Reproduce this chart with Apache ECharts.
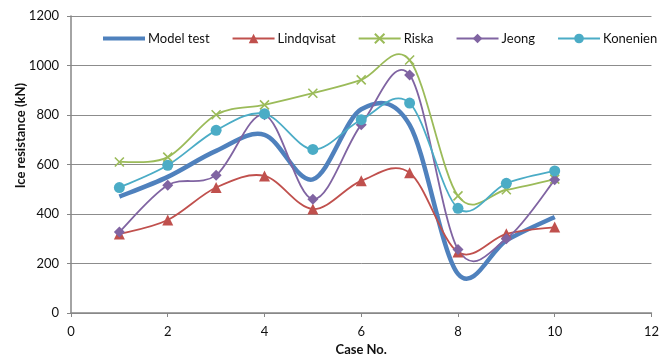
<!DOCTYPE html>
<html>
<head>
<meta charset="utf-8">
<script src="https://cdn.jsdelivr.net/npm/echarts@6/dist/echarts.min.js"></script>
<style>
html,body{margin:0;padding:0;background:#fff;}
#c{width:662px;height:361px;}
</style>
</head>
<body>
<div id="c"></div>
<script>
const caseNo = [1, 2, 3, 4, 5, 6, 7, 8, 9, 10];
const modelTest = [470, 550, 655, 720, 540, 823, 760, 158, 293, 388];
const lindqvisat = [319, 376, 507, 554, 420, 534, 567, 246, 320, 347];
const riska = [610, 630, 801, 841, 888, 942, 1022, 473, 498, 541];
const jeong = [327, 516, 557, 801, 460, 761, 962, 257, 300, 538];
const konenien = [507, 597, 738, 805, 661, 781, 848, 423, 524, 574];
const xTicks = [0, 2, 4, 6, 8, 10, 12];
const yTicks = [0, 200, 400, 600, 800, 1000, 1200];

const FONT = 'Lato';
const pair = arr => caseNo.map((x, i) => [x, arr[i]]);
const xPath = 'path://M0,0L10,10M10,0L0,10';

// Excel-like smoothed curve (Catmull-Rom Bezier) drawn through the axis scales
function curveSeries(name, arr, color, width, z) {
  return {
    name: name + ' curve', type: 'custom', coordinateSystem: 'cartesian2d',
    data: pair(arr), encode: {x: 0, y: 1}, z: z, silent: true,
    renderItem: function (params, api) {
      if (params.dataIndex !== 0) return null;
      const p = caseNo.map((x, i) => api.coord([x, arr[i]]));
      const n = p.length;
      let d = 'M' + p[0][0] + ' ' + p[0][1];
      for (let i = 0; i < n - 1; i++) {
        const p0 = p[Math.max(i - 1, 0)], p1 = p[i], p2 = p[i + 1], p3 = p[Math.min(i + 2, n - 1)];
        const c1 = [p1[0] + (p2[0] - p0[0]) / 6, p1[1] + (p2[1] - p0[1]) / 6];
        const c2 = [p2[0] - (p3[0] - p1[0]) / 6, p2[1] - (p3[1] - p1[1]) / 6];
        d += ' C' + c1[0] + ' ' + c1[1] + ' ' + c2[0] + ' ' + c2[1] + ' ' + p2[0] + ' ' + p2[1];
      }
      return {type: 'path', shape: {pathData: d}, style: {stroke: color, lineWidth: width, fill: null, lineJoin: 'round'}};
    }
  };
}
function markerSeries(name, arr, color, symbol, size, z, extra) {
  return Object.assign({
    name: name, type: 'line', data: pair(arr), symbol: symbol, symbolSize: size, showSymbol: symbol !== 'none',
    lineStyle: {color: color, width: 0, opacity: 0}, itemStyle: {color: color}, z: z
  }, extra || {});
}

const chart = echarts.init(document.getElementById('c'), null, {renderer: 'canvas'});
chart.setOption({
  animation: false,
  backgroundColor: '#fff',
  textStyle: {fontFamily: FONT},
  grid: {left: 71, right: 5, top: 16, bottom: 45.5, containLabel: false},
  legend: {
    left: 101, top: 32, padding: 0, width: 560,
    itemWidth: 42, itemHeight: 12, itemGap: 22,
    textStyle: {fontFamily: FONT, fontSize: 13, color: '#111', padding: [0, 0, 0, -2]},
    data: [
      {name: 'Model test', itemStyle: {opacity: 0}, lineStyle: {opacity: 1, width: 4, color: '#4F81BD'}},
      {name: 'Lindqvisat', lineStyle: {opacity: 1, width: 2, color: '#C0504D'}},
      {name: 'Riska', lineStyle: {opacity: 1, width: 2, color: '#9BBB59'}},
      {name: 'Jeong', lineStyle: {opacity: 1, width: 2, color: '#8064A2'}},
      {name: 'Konenien', lineStyle: {opacity: 1, width: 2, color: '#4BACC6'}}
    ]
  },
  xAxis: {
    type: 'value', min: xTicks[0], max: xTicks[xTicks.length - 1], interval: 2,
    name: 'Case No.', nameLocation: 'middle', nameGap: 30,
    nameTextStyle: {fontFamily: FONT, fontSize: 13, fontWeight: 'bold', color: '#111'},
    axisLine: {lineStyle: {color: '#868686', width: 1.5}},
    axisTick: {show: true, inside: false, length: 4, lineStyle: {color: '#868686'}},
    axisLabel: {margin: 12, fontFamily: FONT, fontSize: 13, color: '#111'},
    splitLine: {show: false}
  },
  yAxis: {
    type: 'value', min: yTicks[0], max: yTicks[yTicks.length - 1], interval: 200,
    axisLine: {show: true, lineStyle: {color: '#868686', width: 1.5}},
    axisTick: {show: true, inside: false, length: 4, lineStyle: {color: '#868686'}},
    axisLabel: {margin: 12, fontFamily: FONT, fontSize: 13, color: '#111', formatter: v => String(v)},
    splitLine: {show: true, lineStyle: {color: '#8c8c8c', width: 1}}
  },
  graphic: [{
    type: 'text', left: 14, top: 83, rotation: Math.PI / 2,
    style: {text: 'Ice resistance (kN)', fontFamily: FONT, fontSize: 13, fontWeight: 'bold', fill: '#111'}
  }],
  series: [
    markerSeries('Model test', modelTest, '#4F81BD', 'none', 0, 1),
    markerSeries('Lindqvisat', lindqvisat, '#C0504D', 'triangle', 11, 12),
    markerSeries('Riska', riska, '#9BBB59', xPath, 9, 13, {itemStyle: {color: '#9BBB59', borderColor: '#9BBB59', borderWidth: 1.6}}),
    markerSeries('Jeong', jeong, '#8064A2', 'diamond', 11, 14),
    markerSeries('Konenien', konenien, '#4BACC6', 'circle', 11, 15),
    curveSeries('Model test', modelTest, '#4F81BD', 4.5, 1),
    curveSeries('Lindqvisat', lindqvisat, '#C0504D', 1.8, 2),
    curveSeries('Riska', riska, '#9BBB59', 1.8, 3),
    curveSeries('Jeong', jeong, '#8064A2', 1.8, 4),
    curveSeries('Konenien', konenien, '#4BACC6', 1.8, 5)
  ]
});
</script>
</body>
</html>
